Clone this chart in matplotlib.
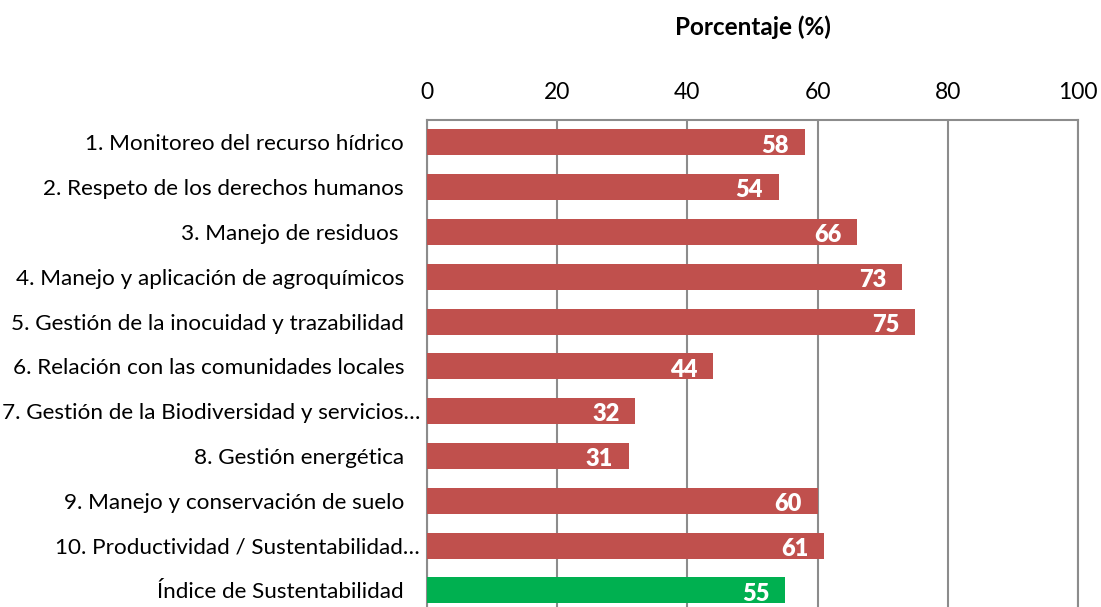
import numpy as np
import matplotlib.pyplot as plt
from matplotlib.transforms import ScaledTranslation

plt.rcParams['font.family'] = ['Lato', 'DejaVu Sans']

labels = ['1. Monitoreo del recurso hídrico',
          '2. Respeto de los derechos humanos',
          '3. Manejo de residuos ',
          '4. Manejo y aplicación de agroquímicos',
          '5. Gestión de la inocuidad y trazabilidad',
          '6. Relación con las comunidades locales',
          '7. Gestión de la Biodiversidad y servicios…',
          '8. Gestión energética',
          '9. Manejo y conservación de suelo',
          '10. Productividad / Sustentabilidad…',
          'Índice de Sustentabilidad']
values = [58, 54, 66, 73, 75, 44, 32, 31, 60, 61, 55]
colors = ['#C0504D'] * 10 + ['#00B050']
xticks = [0, 20, 40, 60, 80, 100]

fig = plt.figure(figsize=(11.01, 6.07), dpi=100)
ax = fig.add_axes([427/1101, 0, (1078-427)/1101, 1-120/607])

y = np.arange(len(values))
ax.barh(y, values, height=0.58, color=colors, zorder=3)
for yi, v in zip(y, values):
    ax.text(v - 2.4, yi + 0.07, str(v), ha='right', va='center', color='white',
            fontsize=17, fontweight='heavy', zorder=4)

ax.set_xlim(0, 100)
ax.set_ylim(10.37, -0.5)
ax.set_xticks(xticks)
ax.xaxis.tick_top()
ax.tick_params(axis='x', length=0, pad=12, labelsize=16.5)
ax.tick_params(axis='y', length=0, pad=16.5, labelsize=16.2)
ax.set_yticks(y)
ax.set_yticklabels(labels)
for lab in ax.get_yticklabels():
    if lab.get_text().endswith('…'):
        lab.set_transform(lab.get_transform() + ScaledTranslation(16/100, 0, fig.dpi_scale_trans))
ax.grid(axis='x', color='#8C8C8C', linewidth=1.5, zorder=0)
ax.spines['bottom'].set_visible(False)
for s in ['top', 'left', 'right']:
    ax.spines[s].set_color('#8C8C8C')
    ax.spines[s].set_linewidth(1.5)

ax.set_xlabel('Porcentaje (%)', fontsize=17.5, fontweight='bold', labelpad=34)
ax.xaxis.set_label_position('top')

fig.savefig('out.png', dpi=100)
